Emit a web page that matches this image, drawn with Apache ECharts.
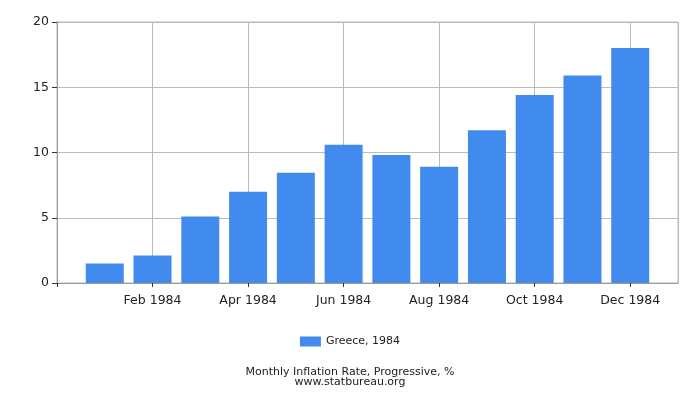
<!DOCTYPE html>
<html>
<head>
<meta charset="utf-8">
<script src="https://cdn.jsdelivr.net/npm/echarts@6/dist/echarts.min.js"></script>
<style>html,body{margin:0;padding:0;background:#fff;}#c{width:700px;height:400px;}</style>
</head>
<body>
<div id="c"></div>
<script>
const categories = ['', 'Jan 1984', 'Feb 1984', 'Mar 1984', 'Apr 1984', 'May 1984', 'Jun 1984', 'Jul 1984', 'Aug 1984', 'Sep 1984', 'Oct 1984', 'Nov 1984', 'Dec 1984', ''];
const greece1984 = [null, 1.5, 2.1, 5.1, 7.0, 8.45, 10.6, 9.8, 8.9, 11.7, 14.4, 15.9, 18.0, null];
const yTicks = [0, 5, 10, 15, 20];
const seriesName = 'Greece, 1984';
const titleText = 'Monthly Inflation Rate, Progressive, %';
const sourceText = 'www.statbureau.org';

const font = 'DejaVu Sans';
const chart = echarts.init(document.getElementById('c'), null, {renderer: 'canvas'});
chart.setOption({
  animation: false,
  textStyle: {fontFamily: font},
  title: [
    {text: titleText, left: 'center', top: 362, textStyle: {fontSize: 11, fontWeight: 'normal', color: '#222', fontFamily: font}},
    {text: sourceText, left: 'center', top: 372, textStyle: {fontSize: 11, fontWeight: 'normal', color: '#222', fontFamily: font}}
  ],
  legend: {
    data: [seriesName], top: 331, left: 'center', itemWidth: 21, itemHeight: 10, itemGap: 5,
    textStyle: {fontSize: 11, color: '#222', fontFamily: font}, icon: 'rect'
  },
  grid: {left: 57, right: 22, top: 22, bottom: 117, show: true, borderColor: '#bbb', borderWidth: 1},
  xAxis: {
    type: 'category', data: categories, boundaryGap: false,
    axisLine: {lineStyle: {color: '#999'}},
    axisTick: {show: true, length: 4, interval: (i) => i % 2 === 0, lineStyle: {color: '#333'}},
    axisLabel: {interval: (i) => i % 2 === 0, fontSize: 12.5, color: '#222', margin: 11, fontFamily: font},
    splitLine: {show: true, interval: (i) => i % 2 === 0 || i === 13, lineStyle: {color: '#bbb'}}
  },
  yAxis: {
    type: 'value', min: yTicks[0], max: yTicks[yTicks.length - 1], interval: 5,
    axisLine: {show: true, lineStyle: {color: '#999'}},
    axisTick: {show: true, length: 5, lineStyle: {color: '#333'}},
    axisLabel: {fontSize: 12.5, color: '#222', margin: 8, fontFamily: font},
    splitLine: {show: true, lineStyle: {color: '#bbb'}}
  },
  series: [{
    name: seriesName, type: 'bar', data: greece1984, barWidth: 38,
    itemStyle: {color: '#428bee'}
  }]
});
</script>
</body>
</html>
